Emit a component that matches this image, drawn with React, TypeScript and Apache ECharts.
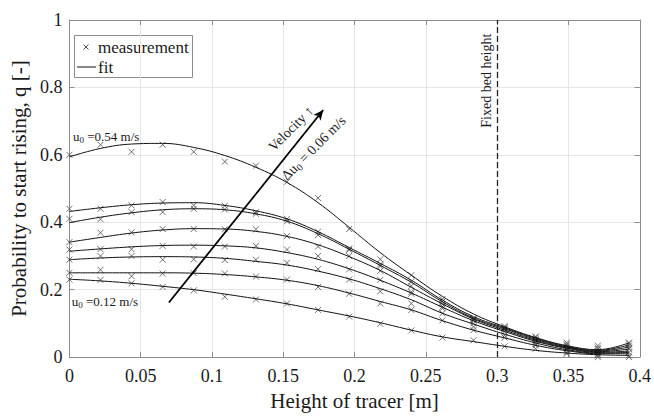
import React, { useEffect, useRef } from "react";
import * as echarts from "echarts";

const FONT = "Liberation Serif";

const heights = [0, 0.0218, 0.0436, 0.0654, 0.0872, 0.109, 0.1308, 0.1526, 0.1744, 0.1962, 0.218, 0.2398, 0.2616, 0.2834, 0.3052, 0.327, 0.3488, 0.3706, 0.3924];

const velocities = ["0.12", "0.18", "0.24", "0.30", "0.36", "0.42", "0.48", "0.54"];

const meas012 = [0.23, 0.229, 0.219, 0.208, 0.198, 0.179, 0.171, 0.159, 0.14, 0.12, 0.099, 0.079, 0.058, 0.05, 0.032, 0.025, 0.01, 0.0, 0.0];
const meas018 = [0.25, 0.259, 0.24, 0.248, 0.249, 0.248, 0.239, 0.23, 0.208, 0.188, 0.159, 0.14, 0.109, 0.08, 0.058, 0.035, 0.014, 0.005, 0.005];
const meas024 = [0.289, 0.3, 0.3, 0.289, 0.29, 0.288, 0.289, 0.28, 0.261, 0.23, 0.195, 0.159, 0.13, 0.09, 0.065, 0.039, 0.022, 0.008, 0.014];
const meas030 = [0.319, 0.32, 0.32, 0.33, 0.328, 0.328, 0.33, 0.319, 0.3, 0.26, 0.229, 0.188, 0.145, 0.1, 0.075, 0.045, 0.022, 0.014, 0.024];
const meas036 = [0.341, 0.369, 0.37, 0.38, 0.38, 0.379, 0.379, 0.359, 0.328, 0.3, 0.256, 0.193, 0.15, 0.108, 0.082, 0.05, 0.028, 0.018, 0.028];
const meas042 = [0.41, 0.409, 0.43, 0.43, 0.44, 0.438, 0.425, 0.403, 0.362, 0.318, 0.27, 0.211, 0.157, 0.11, 0.085, 0.053, 0.034, 0.024, 0.034];
const meas048 = [0.44, 0.44, 0.45, 0.46, 0.45, 0.449, 0.43, 0.41, 0.372, 0.322, 0.275, 0.224, 0.165, 0.112, 0.088, 0.058, 0.038, 0.028, 0.04];
const meas054 = [0.6, 0.63, 0.609, 0.63, 0.609, 0.58, 0.568, 0.52, 0.472, 0.38, 0.29, 0.243, 0.172, 0.115, 0.092, 0.061, 0.043, 0.034, 0.043];

const fit012 = [0.231, 0.226, 0.219, 0.21, 0.2, 0.187, 0.173, 0.158, 0.14, 0.122, 0.102, 0.08, 0.06, 0.046, 0.032, 0.02, 0.012, 0.007, 0.005];
const fit018 = [0.25, 0.25, 0.25, 0.25, 0.249, 0.245, 0.238, 0.228, 0.212, 0.19, 0.165, 0.14, 0.108, 0.08, 0.057, 0.035, 0.019, 0.01, 0.01];
const fit024 = [0.289, 0.294, 0.297, 0.298, 0.297, 0.293, 0.284, 0.273, 0.255, 0.232, 0.203, 0.17, 0.13, 0.098, 0.068, 0.042, 0.022, 0.012, 0.014];
const fit030 = [0.314, 0.321, 0.327, 0.331, 0.332, 0.33, 0.324, 0.31, 0.29, 0.262, 0.228, 0.19, 0.148, 0.108, 0.076, 0.047, 0.026, 0.014, 0.018];
const fit036 = [0.341, 0.355, 0.368, 0.377, 0.381, 0.38, 0.373, 0.358, 0.333, 0.298, 0.257, 0.207, 0.158, 0.113, 0.08, 0.05, 0.028, 0.016, 0.024];
const fit042 = [0.399, 0.415, 0.428, 0.437, 0.44, 0.437, 0.425, 0.403, 0.366, 0.32, 0.272, 0.222, 0.164, 0.116, 0.084, 0.053, 0.03, 0.018, 0.03];
const fit048 = [0.432, 0.443, 0.452, 0.457, 0.458, 0.45, 0.434, 0.41, 0.372, 0.325, 0.278, 0.228, 0.169, 0.12, 0.087, 0.056, 0.032, 0.02, 0.036];
const fit054 = [0.594, 0.619, 0.632, 0.634, 0.622, 0.598, 0.563, 0.518, 0.458, 0.385, 0.31, 0.243, 0.18, 0.128, 0.09, 0.058, 0.034, 0.022, 0.042];

const measurements = [meas012, meas018, meas024, meas030, meas036, meas042, meas048, meas054];
const fits = [fit012, fit018, fit024, fit030, fit036, fit042, fit048, fit054];

const fixedBedHeight = 0.305;
const arrowStart = [0.0698, 0.162];
const arrowEnd = [0.178, 0.733];

const xTicks = { min: 0, max: 0.4, interval: 0.05 };
const yTicks = { min: 0, max: 1, interval: 0.2 };

const CROSS = "path://M0,0L10,10M10,0L0,10";

export default function App() {
  const ref = useRef<HTMLDivElement>(null);

  useEffect(() => {
    if (!ref.current) return;
    const chart = echarts.init(ref.current, undefined, { renderer: "svg" });

    const axisColor = "#8c8c8c";
    const textColor = "#1a1a1a";

    const series: any[] = [];
    measurements.forEach((m) => {
      series.push({
        type: "scatter",
        name: "measurement",
        symbol: CROSS,
        symbolSize: 6,
        itemStyle: { color: "none", borderColor: "#4d4d4d", borderWidth: 1 },
        data: heights.map((h, j) => [h, m[j]]),
        z: 3,
      });
    });
    fits.forEach((f) => {
      series.push({
        type: "line",
        name: "fit",
        smooth: 0.4,
        showSymbol: false,
        symbol: "none",
        lineStyle: { color: "#111", width: 1 },
        data: heights.map((h, j) => [h, f[j]]),
        z: 4,
      });
    });

    const sub = (v: string) => `{a|u}{s|0}{a| =${v} m/s}`;
    const rich = {
      a: { fontSize: 13, fontFamily: FONT, color: textColor },
      s: { fontSize: 9, fontFamily: FONT, color: textColor, padding: [7, 0, 0, 0] },
    };
    const rich14 = {
      a: { fontSize: 14, fontFamily: FONT, color: textColor },
      s: { fontSize: 10, fontFamily: FONT, color: textColor, padding: [7, 0, 0, 0] },
    };

    series.push({
      type: "line",
      name: "annotations",
      data: [],
      silent: true,
      markLine: {
        silent: true,
        animation: false,
        label: { show: false },
        data: [
          [
            { coord: arrowStart, symbol: "none" },
            { coord: arrowEnd, symbol: "arrow", symbolSize: [7, 10] },
          ],
          { xAxis: fixedBedHeight, symbol: "none", lineStyle: { type: [6, 3], color: "#222", width: 1.3 } },
        ],
        lineStyle: { color: "#000", width: 1.8, type: "solid" },
        symbol: ["none", "none"],
      },
      markPoint: {
        silent: true,
        animation: false,
        symbolSize: 0,
        data: [
          {
            coord: [0.0258, 0.653],
            label: { show: true, position: "inside", formatter: sub("0.54"), rich },
          },
          {
            coord: [0.0249, 0.166],
            label: { show: true, position: "inside", formatter: sub("0.12"), rich },
          },
          {
            coord: [0.2927, 0.82],
            label: { show: true, position: "inside", rotate: 90, formatter: "Fixed bed height", fontSize: 14, fontFamily: FONT, color: textColor },
          },
          {
            coord: [0.1554, 0.678],
            label: { show: true, position: "inside", rotate: 45, formatter: "Velocity ↑", fontSize: 14, fontFamily: FONT, color: textColor },
          },
          {
            coord: [0.1713, 0.62],
            label: {
              show: true,
              position: "inside",
              rotate: 45,
              formatter: "{a|Δu}{s|0}{a| = 0.06 m/s}",
              rich: rich14,
            },
          },
        ],
      },
    });

    const xLabelFmt = (v: number) => String(+v.toFixed(2));
    const yLabelFmt = (v: number) => String(+v.toFixed(1));

    chart.setOption({
      animation: false,
      backgroundColor: "#fff",
      grid: { left: 62, right: 13, top: 20, bottom: 51, containLabel: false },
      xAxis: [
        {
          type: "value",
          ...xTicks,
          position: "bottom",
          name: "Height of tracer [m]",
          nameLocation: "middle",
          nameGap: 25,
          nameTextStyle: { fontSize: 21, fontFamily: FONT, color: textColor },
          axisLine: { show: true, onZero: false, lineStyle: { color: axisColor, width: 1 } },
          axisTick: { show: true, inside: true, length: 5, lineStyle: { color: axisColor } },
          axisLabel: { fontSize: 18, fontFamily: FONT, color: textColor, margin: 10, formatter: xLabelFmt },
          splitLine: { show: true, lineStyle: { color: "#e6e6e6", width: 1 } },
        },
        {
          type: "value",
          ...xTicks,
          position: "top",
          axisLine: { show: true, onZero: false, lineStyle: { color: axisColor, width: 1 } },
          axisTick: { show: true, inside: true, length: 5, lineStyle: { color: axisColor } },
          axisLabel: { show: false },
          splitLine: { show: false },
        },
      ],
      yAxis: [
        {
          type: "value",
          ...yTicks,
          position: "left",
          name: "Probability to start rising, q [-]",
          nameLocation: "middle",
          nameGap: 30,
          nameTextStyle: { fontSize: 21, fontFamily: FONT, color: textColor },
          axisLine: { show: true, onZero: false, lineStyle: { color: axisColor, width: 1 } },
          axisTick: { show: true, inside: true, length: 5, lineStyle: { color: axisColor } },
          axisLabel: { fontSize: 18, fontFamily: FONT, color: textColor, margin: 7, formatter: yLabelFmt },
          splitLine: { show: true, lineStyle: { color: "#e6e6e6", width: 1 } },
        },
        {
          type: "value",
          ...yTicks,
          position: "right",
          axisLine: { show: true, onZero: false, lineStyle: { color: axisColor, width: 1 } },
          axisTick: { show: true, inside: true, length: 5, lineStyle: { color: axisColor } },
          axisLabel: { show: false },
          splitLine: { show: false },
        },
      ],
      graphic: [
        {
          type: "group",
          z: 100,
          children: [
            {
              type: "rect",
              shape: { x: 74.5, y: 35.5, width: 118, height: 42 },
              style: { fill: "#fff", stroke: axisColor, lineWidth: 1 },
            },
            { type: "line", shape: { x1: 83.5, y1: 44.5, x2: 88.5, y2: 49.5 }, style: { stroke: "#4d4d4d", lineWidth: 1 } },
            { type: "line", shape: { x1: 88.5, y1: 44.5, x2: 83.5, y2: 49.5 }, style: { stroke: "#4d4d4d", lineWidth: 1 } },
            {
              type: "text",
              x: 98,
              y: 47,
              style: { text: "measurement", fontSize: 17, fontFamily: FONT, fill: textColor, verticalAlign: "middle", align: "left" },
            },
            { type: "line", shape: { x1: 77, y1: 67, x2: 96, y2: 67 }, style: { stroke: "#111", lineWidth: 1 } },
            {
              type: "text",
              x: 98,
              y: 67,
              style: { text: "fit", fontSize: 17, fontFamily: FONT, fill: textColor, verticalAlign: "middle", align: "left" },
            },
          ],
        },
      ],
      series,
    });

    return () => chart.dispose();
  }, []);

  return (
    <div
      ref={ref}
      style={{ position: "absolute", left: 0, top: 0, width: 654, height: 416, background: "#fff" }}
    />
  );
}
